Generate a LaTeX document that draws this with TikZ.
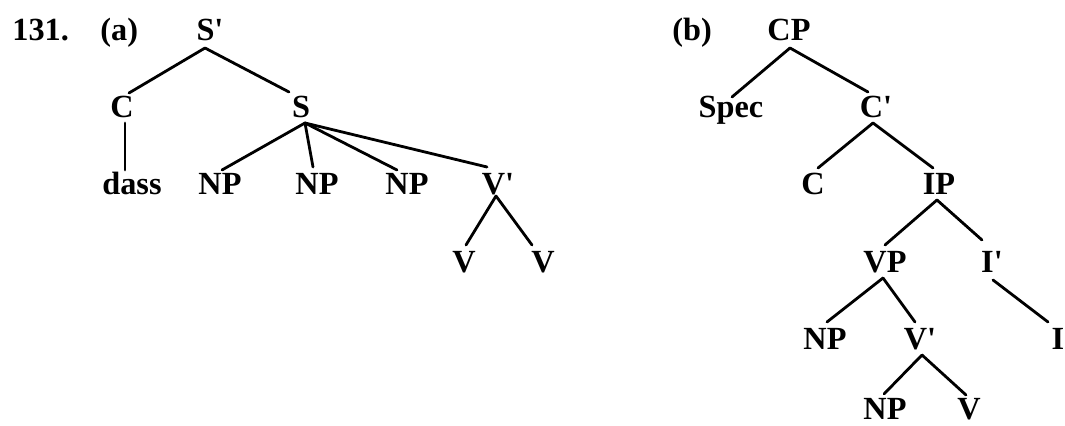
\documentclass[tikz,border=0pt]{standalone}
\usepackage{fontspec}
\newfontfamily\treefont{Liberation Serif}
\begin{document}
\begin{tikzpicture}[x=0.5bp,y=-0.5bp,
  lab/.style={anchor=base,inner sep=0pt,font=\treefont\bfseries\fontsize{16.2}{20}\selectfont},
  edge/.style={line width=1.4bp,line cap=round}]
\useasboundingbox (0,0) rectangle (1065,426);
% tree (a)
\node[lab,anchor=base west] (n131) at (12,41) {131.};
\node[lab,anchor=base west] (la) at (100,41) {(a)};
\node[lab] (Sp) at (210,41) {S'};
\node[lab] (C) at (122,118) {C};
\node[lab] (S) at (301,118) {S};
\node[lab] (dass) at (132,195) {dass};
\node[lab] (NPa) at (220,195) {NP};
\node[lab] (NPb) at (317,195) {NP};
\node[lab] (NPc) at (407,195) {NP};
\node[lab] (Vba) at (498,195) {V'};
\node[lab] (Va) at (464,273) {V};
\node[lab] (Vb) at (543,273) {V};
\draw[edge] ([shift={(-5,7)}]Sp.base) -- ([shift={(7,-25)}]C.base);
\draw[edge] ([shift={(-5,7)}]Sp.base) -- ([shift={(-12,-26)}]S.base);
\draw[edge] ([shift={(3,5)}]C.base) -- ([shift={(-7,-25)}]dass.base);
\draw[edge] ([shift={(4,5)}]S.base) -- ([shift={(2,-25)}]NPa.base);
\draw[edge] ([shift={(4,5)}]S.base) -- ([shift={(-4,-28)}]NPb.base);
\draw[edge] ([shift={(4,5)}]S.base) -- ([shift={(-10,-25)}]NPc.base);
\draw[edge] ([shift={(4,5)}]S.base) -- ([shift={(-11,-28)}]Vba.base);
\draw[edge] ([shift={(-2,1)}]Vba.base) -- ([shift={(2,-28)}]Va.base);
\draw[edge] ([shift={(-2,1)}]Vba.base) -- ([shift={(-11,-28)}]Vb.base);
% tree (b)
\node[lab,anchor=base west] (lb) at (672,41) {(b)};
\node[lab] (CP) at (789,41) {CP};
\node[lab] (Spec) at (731,118) {Spec};
\node[lab] (Cb) at (876,118) {C'};
\node[lab] (C2) at (813,195) {C};
\node[lab] (IP) at (939,195) {IP};
\node[lab] (VP) at (885,273) {VP};
\node[lab] (Ib) at (992,273) {I'};
\node[lab] (NPd) at (825,350) {NP};
\node[lab] (Vbb) at (920,350) {V'};
\node[lab] (I) at (1058,350) {I};
\node[lab] (NPe) at (885,420) {NP};
\node[lab] (Vc) at (969,420) {V};
\draw[edge] ([shift={(1,7)}]CP.base) -- ([shift={(1,-21)}]Spec.base);
\draw[edge] ([shift={(1,7)}]CP.base) -- ([shift={(-8,-26)}]Cb.base);
\draw[edge] ([shift={(-3,5)}]Cb.base) -- ([shift={(5,-27)}]C2.base);
\draw[edge] ([shift={(-3,5)}]Cb.base) -- ([shift={(-6,-27)}]IP.base);
\draw[edge] ([shift={(-2,5)}]IP.base) -- ([shift={(0,-28)}]VP.base);
\draw[edge] ([shift={(-2,5)}]IP.base) -- ([shift={(-10,-33)}]Ib.base);
\draw[edge] ([shift={(-2,5)}]VP.base) -- ([shift={(2,-28)}]NPd.base);
\draw[edge] ([shift={(-2,5)}]VP.base) -- ([shift={(-5,-28)}]Vbb.base);
\draw[edge] ([shift={(1,7)}]Ib.base) -- ([shift={(-10,-28)}]I.base);
\draw[edge] ([shift={(2,5)}]Vbb.base) -- ([shift={(-1,-26)}]NPe.base);
\draw[edge] ([shift={(2,5)}]Vbb.base) -- ([shift={(-3,-25)}]Vc.base);
\end{tikzpicture}
\end{document}
